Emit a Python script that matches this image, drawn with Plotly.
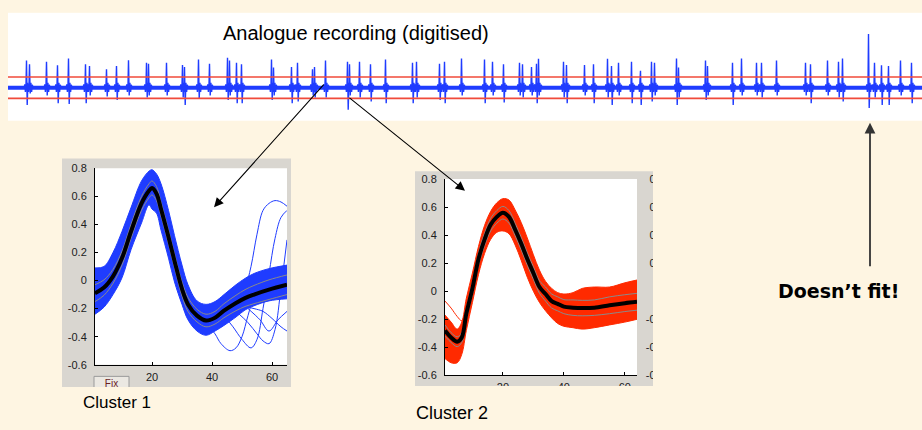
import plotly.graph_objects as go

W, H = 922, 430

# ---------------- data: analogue recording (top strip) ----------------
rec_span = [0, 914]            # time axis extent (samples)
threshold = [1.1, -1.1]        # detection thresholds (red lines)
spike_t = [19, 22, 39, 50, 61, 78, 82, 99, 109, 121, 139, 141, 159, 175, 177, 191, 202,
           220, 222, 229, 234, 264, 266, 284, 290, 305, 307, 318, 340, 342, 352, 363, 378,
           405, 409, 432, 437, 454, 477, 485, 496, 512, 515, 524, 529, 531, 556, 559, 577,
           586, 600, 604, 611, 624, 633, 644, 647, 669, 671, 698, 700, 725, 734, 749, 754,
           769, 798, 803, 820, 831, 835, 861, 867, 874, 881, 893, 904]
spike_up = [2.8, 2.4, 2.67, 2.3, 3.0, 2.4, 2.23, 1.9, 2.23, 2.83, 2.57, 2.47, 2.57, 2.33, 2.13, 2.9, 2.47,
            3.07, 2.8, 2.57, 2.4, 2.9, 2.07, 2.13, 2.57, 1.9, 2.13, 2.8, 2.67, 2.4, 2.67, 2.4, 2.9,
            2.57, 2.67, 2.47, 2.67, 3.0, 2.9, 2.67, 2.4, 2.57, 2.4, 2.13, 2.47, 2.97, 2.67, 2.33, 2.33,
            2.4, 2.97, 2.23, 2.57, 2.67, 1.73, 2.67, 2.57, 3.0, 2.07, 2.8, 2.23, 2.57, 3.0, 2.57, 2.57,
            2.8, 2.57, 2.4, 2.8, 2.67, 3.0, 5.53, 2.57, 2.3, 2.23, 2.8, 2.57]
spike_down = [-1.77, -0.6, -0.8, -1.6, -1.67, -1.6, -0.8, -0.9, -1.27, -0.8, -1.0, -0.8, -0.8, -1.0, -1.77, -1.1, -0.8,
              -1.27, -0.8, -1.6, -1.6, -1.27, -0.8, -1.6, -1.43, -0.8, -1.0, -1.0, -2.27, -0.8, -1.0, -1.43, -1.6,
              -1.6, -1.0, -1.27, -1.6, -0.8, -1.6, -0.8, -1.53, -0.8, -1.0, -0.8, -1.6, -0.8, -1.0, -1.6, -0.8,
              -1.6, -1.0, -1.77, -0.8, -1.6, -1.77, -1.43, -0.8, -1.77, -1.0, -1.27, -0.8, -1.77, -0.8, -0.8, -1.0,
              -0.8, -0.8, -1.6, -0.8, -1.0, -1.43, -2.1, -1.0, -1.77, -1.77, -0.8, -1.6]

# ---------------- data: cluster 1 waveforms ----------------
c1_x = [1, 4, 7, 10, 13, 16.5, 19, 20, 21.5, 23, 25.5, 27.5, 30, 32, 35, 38, 41, 44, 48, 51, 54, 59, 65]
c1_mean = [-0.09, -0.05, 0.03, 0.16, 0.35, 0.55, 0.64, 0.66, 0.62, 0.51, 0.31, 0.14, -0.06, -0.17,
           -0.25, -0.285, -0.265, -0.215, -0.16, -0.125, -0.1, -0.065, -0.03]
c1_sd = [0.06, 0.055, 0.05, 0.05, 0.05, 0.05, 0.05, 0.05, 0.05, 0.05, 0.05, 0.05, 0.05, 0.05,
         0.045, 0.045, 0.045, 0.05, 0.055, 0.06, 0.065, 0.07, 0.07]
c1_hi = [0.09, 0.1, 0.2, 0.35, 0.52, 0.71, 0.78, 0.79, 0.76, 0.69, 0.5, 0.32, 0.11, -0.03,
         -0.145, -0.17, -0.15, -0.1, -0.03, 0.015, 0.05, 0.085, 0.11]
c1_lo = [-0.24, -0.19, -0.1, 0.02, 0.22, 0.41, 0.54, 0.51, 0.48, 0.36, 0.16, -0.01, -0.17, -0.28,
         -0.36, -0.39, -0.36, -0.32, -0.26, -0.21, -0.18, -0.145, -0.13]
c1_out_x = [
    [46, 49, 51, 53, 55, 57, 59, 61, 63, 65],
    [38, 41, 43, 46, 48, 50, 52, 54, 57, 61, 65],
    [44, 47, 50, 53, 55, 57, 59, 61, 63, 65],
    [48, 52, 55, 57, 59, 61, 63, 65],
    [50, 54, 57, 60, 63, 65],
    [52, 56, 59, 62, 65],
]
c1_out_y = [
    [-0.18, -0.14, -0.06, 0.1, 0.33, 0.5, 0.55, 0.57, 0.56, 0.53],
    [-0.3, -0.38, -0.45, -0.5, -0.48, -0.4, -0.25, -0.12, -0.05, 0.0, 0.03],
    [-0.25, -0.33, -0.42, -0.48, -0.42, -0.2, 0.05, 0.3, 0.45, 0.5],
    [-0.22, -0.3, -0.38, -0.43, -0.45, -0.35, -0.05, 0.29],
    [-0.18, -0.2, -0.22, -0.27, -0.33, -0.36],
    [-0.2, -0.28, -0.36, -0.28, -0.22],
]

# ---------------- data: cluster 2 waveforms ----------------
c2_x = [1, 3, 5, 6.5, 8, 10, 12, 14, 16, 18, 20, 22, 24, 26, 28, 30, 32, 34, 36, 38, 40, 43, 46, 50, 55, 60, 64]
c2_mean = [-0.28, -0.33, -0.36, -0.33, -0.16, 0.02, 0.23, 0.37, 0.475, 0.53, 0.56, 0.53, 0.44, 0.34,
           0.23, 0.13, 0.03, -0.02, -0.07, -0.09, -0.11, -0.117, -0.12, -0.117, -0.1, -0.085, -0.075]
c2_sd = [0.04, 0.035, 0.035, 0.035, 0.04, 0.045, 0.045, 0.045, 0.045, 0.045, 0.045, 0.045, 0.045, 0.045,
         0.045, 0.045, 0.045, 0.05, 0.05, 0.05, 0.05, 0.055, 0.055, 0.055, 0.06, 0.06, 0.06]
c2_hi = [-0.17, -0.22, -0.27, -0.22, -0.05, 0.13, 0.32, 0.47, 0.57, 0.63, 0.66, 0.65, 0.58, 0.49,
         0.38, 0.26, 0.15, 0.07, 0.02, -0.01, -0.02, -0.01, 0.02, 0.03, 0.03, 0.06, 0.08]
c2_lo = [-0.48, -0.51, -0.51, -0.45, -0.28, -0.08, 0.12, 0.27, 0.37, 0.42, 0.43, 0.41, 0.33, 0.22,
         0.1, 0.0, -0.08, -0.14, -0.19, -0.23, -0.25, -0.26, -0.27, -0.26, -0.24, -0.22, -0.2]
c2_out_x = [1, 3, 5, 6.5, 8, 9]
c2_out_y = [-0.07, -0.12, -0.18, -0.21, -0.12, -0.02]

# ---------------- axis tick labels ----------------
y_ticks = [0.8, 0.6, 0.4, 0.2, 0, -0.2, -0.4, -0.6]
y_tick_text = ["0.8", "0.6", "0.4", "0.2", "0", "-0.2", "-0.4", "-0.6"]
x_ticks = [20, 40, 60]
x_tick_text = ["20", "40", "60"]

# ---------------- styling ----------------
CREAM = "#fef5e2"
GREY = "#d9d6d0"
BLUE = "#1f3cff"
RED = "#ff2a00"
THR_RED = "#f04a3a"
FONT = "Arial, Liberation Sans, sans-serif"


def px(x):
    return x / W


def py(y):
    return 1 - y / H


fig = go.Figure()

# --- recording ---
sx, sy = [], []
burst = [(-2.8, 0), (-2.2, 0.35), (-1.6, -0.45), (-1.0, 0.3), (-0.5, None), (0.2, None),
         (0.9, 0.5), (1.6, -0.45), (2.3, 0.3), (3.0, 0)]
for t, u, d in zip(spike_t, spike_up, spike_down):
    for k, (dx, v) in enumerate(burst):
        if k == 4:
            v = u
        elif k == 5:
            v = d
        sx.append(t + dx)
        sy.append(v)
    sx.append(None)
    sy.append(None)

fig.add_trace(go.Scatter(x=rec_span, y=[0, 0], mode="lines", line=dict(color=BLUE, width=4),
                         xaxis="x", yaxis="y", hoverinfo="skip"))
fig.add_trace(go.Scatter(x=sx, y=sy, mode="lines", line=dict(color=BLUE, width=1.4),
                         xaxis="x", yaxis="y", hoverinfo="skip"))
for th in threshold:
    fig.add_trace(go.Scatter(x=rec_span, y=[th, th], mode="lines", line=dict(color=THR_RED, width=1.6),
                             xaxis="x", yaxis="y", hoverinfo="skip"))


def cluster(xs, hi, lo, color, xa, ya):
    fig.add_trace(go.Scatter(x=xs, y=hi, mode="lines", line=dict(color=color, width=1, shape="spline"),
                             xaxis=xa, yaxis=ya, hoverinfo="skip"))
    fig.add_trace(go.Scatter(x=xs, y=lo, mode="lines", line=dict(color=color, width=1, shape="spline"),
                             fill="tonexty", fillcolor=color, xaxis=xa, yaxis=ya, hoverinfo="skip"))


for ox, oy in zip(c1_out_x, c1_out_y):
    fig.add_trace(go.Scatter(x=ox, y=oy, mode="lines", line=dict(color=BLUE, width=1, shape="spline"),
                             xaxis="x2", yaxis="y2", hoverinfo="skip"))
cluster(c1_x, c1_hi, c1_lo, BLUE, "x2", "y2")
fig.add_trace(go.Scatter(x=c1_x, y=[m + s for m, s in zip(c1_mean, c1_sd)], mode="lines",
                         line=dict(color="#8a8a8a", width=1, shape="spline"), xaxis="x2", yaxis="y2"))
fig.add_trace(go.Scatter(x=c1_x, y=[m - s for m, s in zip(c1_mean, c1_sd)], mode="lines",
                         line=dict(color="#8a8a8a", width=1, shape="spline"), xaxis="x2", yaxis="y2"))
fig.add_trace(go.Scatter(x=c1_x, y=c1_mean, mode="lines", line=dict(color="black", width=4, shape="spline"),
                         xaxis="x2", yaxis="y2"))

fig.add_trace(go.Scatter(x=c2_out_x, y=c2_out_y, mode="lines", line=dict(color=RED, width=1, shape="spline"),
                         xaxis="x3", yaxis="y3"))
cluster(c2_x, c2_hi, c2_lo, RED, "x3", "y3")
fig.add_trace(go.Scatter(x=c2_x, y=[m + s for m, s in zip(c2_mean, c2_sd)], mode="lines",
                         line=dict(color="#8a8a8a", width=1, shape="spline"), xaxis="x3", yaxis="y3"))
fig.add_trace(go.Scatter(x=c2_x, y=[m - s for m, s in zip(c2_mean, c2_sd)], mode="lines",
                         line=dict(color="#8a8a8a", width=1, shape="spline"), xaxis="x3", yaxis="y3"))
fig.add_trace(go.Scatter(x=c2_x, y=c2_mean, mode="lines", line=dict(color="black", width=4, shape="spline"),
                         xaxis="x3", yaxis="y3"))

# third (cropped) panel: only its tick labels peek out
fig.add_trace(go.Scatter(x=[0], y=[0], mode="markers", marker=dict(opacity=0), xaxis="x4", yaxis="y4"))

# "Fix" button label, clipped by its own tiny subplot
fig.add_trace(go.Scatter(x=[0.5], y=[0.25], mode="text", text=["Fix"], cliponaxis=True,
                         textfont=dict(family=FONT, size=10, color="#6b1f1f"), xaxis="x5", yaxis="y5"))

tickfont = dict(family=FONT, size=11, color="#202020")
common_x = dict(tickvals=x_ticks, ticktext=x_tick_text, ticks="inside", ticklen=3, tickcolor="black",
                showline=True, linecolor="black", linewidth=1, showgrid=False, zeroline=False,
                tickfont=tickfont)
common_y = dict(tickvals=y_ticks, ticktext=y_tick_text, ticks="inside", ticklen=3, tickcolor="black",
                showline=True, linecolor="black", linewidth=1, showgrid=False, zeroline=False,
                tickfont=tickfont, range=[-0.6, 0.8], ticklabelstandoff=5)

fig.update_layout(
    width=W, height=H, margin=dict(l=0, r=0, t=0, b=0),
    paper_bgcolor=CREAM, plot_bgcolor="white", showlegend=False,
    xaxis=dict(domain=[px(8), 1], range=rec_span, visible=False, fixedrange=True),
    yaxis=dict(domain=[py(118), py(7)], range=[-3.4, 7.7], visible=False, fixedrange=True),
    xaxis2=dict(domain=[px(95), px(287)], range=[1, 65], anchor="y2", ticklabelstandoff=2, **common_x),
    yaxis2=dict(domain=[py(369), py(167)], anchor="x2", **common_y),
    xaxis3=dict(domain=[px(445), px(637)], range=[1, 64], anchor="y3", ticklabelstandoff=1, **common_x),
    yaxis3=dict(domain=[py(380), py(178)], anchor="x3", **common_y),
    xaxis4=dict(domain=[px(673), px(700)], range=[0, 1], anchor="y4", visible=False),
    yaxis4=dict(domain=[py(380), py(178)], anchor="x4", **common_y),
    xaxis5=dict(domain=[px(95), px(128)], range=[0, 1], anchor="y5", visible=False),
    yaxis5=dict(domain=[py(392), py(382)], range=[0, 1], anchor="x5", visible=False),
)


def rect(x0, y0, x1, y1, fill, layer, line=None):
    return dict(type="rect", xref="paper", yref="paper", x0=px(x0), x1=px(x1), y0=py(y1), y1=py(y0),
                fillcolor=fill, line=line or dict(width=0), layer=layer)


shapes = [
    rect(62, 157, 291, 392, GREY, "below"),
    rect(95, 167, 287, 369, "white", "below"),
    rect(415, 170, 653, 391, GREY, "below"),
    rect(445, 178, 637, 380, "white", "below"),
    rect(94, 381, 129, 398, "#ebe8e2", "below", dict(color="#9a9a9a", width=1)),
    # cream covers that crop the screenshots
    rect(55, 392, 300, 430, CREAM, "above"),
    rect(400, 391, 660, 430, CREAM, "above"),
    rect(653, 165, 710, 400, CREAM, "above"),
]
fig.update_layout(shapes=shapes)

ann = [
    dict(text="Analogue recording (digitised)", x=px(221), y=py(28), xanchor="left", yanchor="middle",
         font=dict(family=FONT, size=20, color="black")),
    dict(text="Cluster 1", x=px(81), y=py(408), xanchor="left", yanchor="middle",
         font=dict(family=FONT, size=17, color="black")),
    dict(text="Cluster 2", x=px(414), y=py(419), xanchor="left", yanchor="middle",
         font=dict(family=FONT, size=18, color="black")),
    dict(text="<b>Doesn\u2019t fit!</b>", x=px(776), y=py(293), xanchor="left", yanchor="middle",
         font=dict(family="DejaVu Sans", size=19, color="black")),
]
arrows = [((214, 207), (325, 83), "black", 1.1, 1.7),
          ((465, 190), (348, 96), "black", 1.1, 1.7),
          ((870, 120), (870, 265), "#333333", 1.8, 1.2)]
for (hx, hy), (tx, ty), col, wdt, sz in arrows:
    ann.append(dict(text="", x=px(hx), y=py(hy), xref="paper", yref="paper",
                    ax=tx - hx, ay=ty - hy, axref="pixel", ayref="pixel",
                    showarrow=True, arrowhead=2, arrowsize=sz, arrowwidth=wdt,
                    arrowcolor=col, standoff=0))
for a in ann:
    a.setdefault("xref", "paper")
    a.setdefault("yref", "paper")
    a.setdefault("showarrow", False)
fig.update_layout(annotations=ann)

fig.write_html("out.html", config={"displayModeBar": False},
               post_script="document.body.style.margin='0';document.body.style.overflow='hidden';")
